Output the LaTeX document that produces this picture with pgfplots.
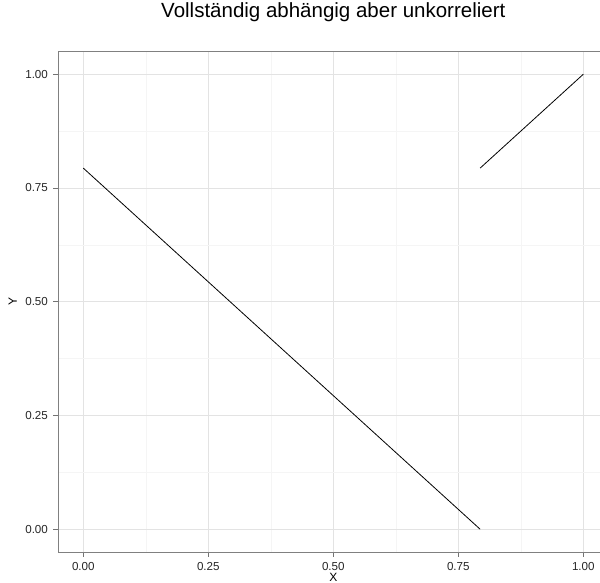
\documentclass[border=0pt]{standalone}
\usepackage{fontspec}
\setmainfont{Liberation Sans}
\usepackage{pgfplots}
\pgfplotsset{compat=1.18}
\begin{document}
\begin{tikzpicture}[x=1pt,y=1pt]
\useasboundingbox (0,0) rectangle (600,583);
\begin{axis}[
  at={(58.3pt,31pt)}, anchor=south west,
  scale only axis, width=550pt, height=500.5pt,
  xmin=-0.05, xmax=1.05, ymin=-0.05, ymax=1.05,
  /pgf/number format/assume math mode=true,
  xtick={0,0.25,0.5,0.75,1}, xticklabels={0.00,0.25,0.50,0.75,1.00},
  ytick={0,0.25,0.5,0.75,1}, yticklabels={0.00,0.25,0.50,0.75,1.00},
  minor xtick={0.125,0.375,0.625,0.875},
  minor ytick={0.125,0.375,0.625,0.875},
  grid=both,
  major grid style={draw=black!11, line width=0.5pt},
  minor grid style={draw=black!4, line width=0.5pt},
  axis line style={draw=black!50, line width=0.7pt},
  tick align=outside, tick pos=left,
  major tick length=4.8pt, minor tick length=0pt,
  tick style={draw=black!55, line width=0.7pt},
  ticklabel style={font=\fontsize{11.6}{13}\selectfont, text=black!85},
  yticklabel style={inner sep=0pt, xshift=-5.4pt},
  xticklabel style={inner sep=0pt, yshift=-5.6pt},
  title={Vollständig abhängig aber unkorreliert},
  title style={at={(axis description cs:0.5,1)}, anchor=base, inner sep=0pt, yshift=27.5pt, font=\fontsize{20.5}{24}\selectfont},
  xlabel={X},
  xlabel style={at={(axis description cs:0.5,0)}, anchor=north, inner sep=0pt, yshift=-20.7pt, font=\fontsize{12}{14}\selectfont},
  ylabel={Y},
  ylabel style={at={([xshift=-41.3pt]axis description cs:0,0.5)}, anchor=south, inner sep=0pt, font=\fontsize{12}{14}\selectfont},
]
\addplot[black, line width=0.8pt] coordinates {(0,0.7937) (0.7937,0)};
\addplot[black, line width=0.8pt] coordinates {(0.7937,0.7937) (1,1)};
\end{axis}
\end{tikzpicture}
\end{document}
